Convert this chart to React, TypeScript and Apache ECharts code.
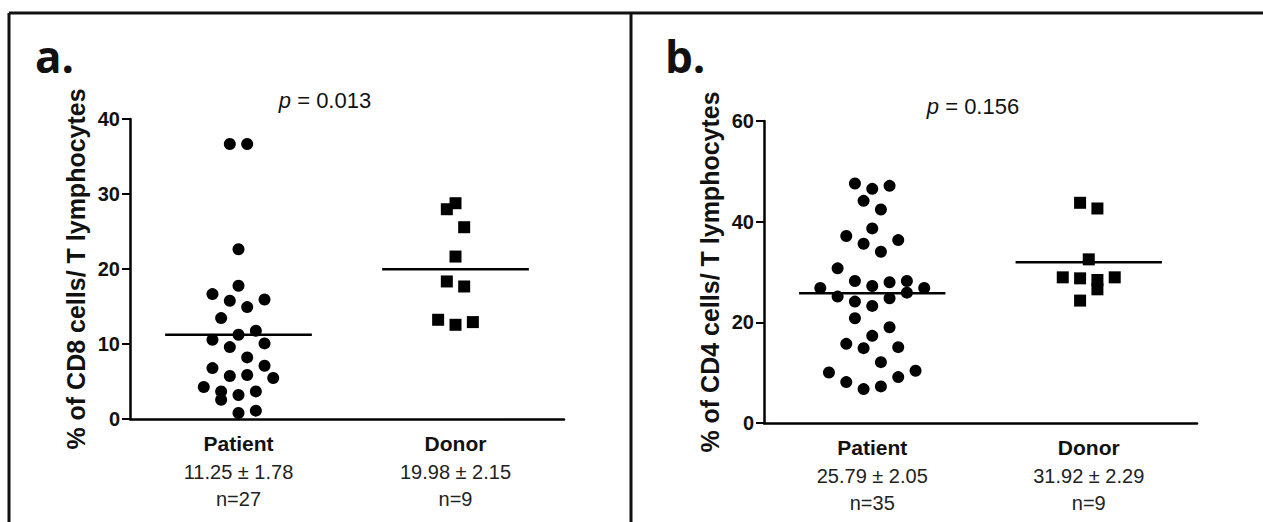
import React, { useEffect, useRef } from "react";
import * as echarts from "echarts";

// categories and summary labels
const categories = ["Patient", "Donor"];
const statsA = ["11.25 ± 1.78", "19.98 ± 2.15"];
const countsA = ["n=27", "n=9"];
const statsB = ["25.79 ± 2.05", "31.92 ± 2.29"];
const countsB = ["n=35", "n=9"];
const meansA = [11.25, 19.98];
const meansB = [25.79, 31.92];
const pA = "0.013";
const pB = "0.156";
const ticksA = [0, 10, 20, 30, 40];
const ticksB = [0, 20, 40, 60];

// points: [jitter step, value]
const patientA = [
  [-1, 36.67], [1, 36.67], [0, 22.64], [0, 17.76], [-3, 16.65], [-1, 15.76], [3, 15.94],
  [1, 14.92], [-2, 13.45], [2, 11.76], [0, 11.23], [-3, 10.57], [3, 10.08], [-1, 9.59],
  [1, 8.21], [-3, 6.79], [3, 7.1], [-1, 5.73], [1, 5.86], [4, 5.46], [-4, 4.26],
  [-2, 3.68], [0, 3.2], [2, 3.68], [-2, 2.57], [2, 1.11], [0, 0.8],
];
const donorA = [
  [0, 28.77], [-1, 27.97], [1, 25.57], [0, 21.66], [-1, 18.34], [1, 17.67],
  [-2, 13.23], [0, 12.56], [2, 12.92],
];
const patientB = [
  [-2, 47.58], [0, 46.52], [2, 47.12], [-1, 44.14], [1, 42.42], [0, 38.66], [-3, 37.14],
  [3, 36.34], [-1, 35.62], [1, 34.03], [-4, 30.73], [-2, 28.22], [2, 27.95], [4, 28.22],
  [-6, 26.83], [0, 27.23], [6, 26.83], [-4, 25.11], [4, 25.9], [2, 24.78], [-2, 24.12],
  [0, 23.26], [-2, 20.82], [2, 19.03], [0, 17.31], [-3, 15.73], [-1, 14.87], [3, 15.07],
  [1, 12.09], [-5, 10.04], [5, 10.37], [-3, 8.13], [3, 9.12], [-1, 6.74], [1, 7.27],
];
const donorB = [
  [-1, 43.75], [1, 42.62], [0, 32.51], [-3, 28.94], [-1, 28.74], [1, 28.41], [3, 28.94],
  [1, 26.56], [-1, 24.32],
];

const FONT = "'Liberation Sans', Arial, sans-serif";
const STEP = 0.04;
const HALF = 0.338;

export default function App() {
  const ref = useRef<HTMLDivElement>(null);
  useEffect(() => {
    document.body.style.margin = "0";
    const chart = echarts.init(ref.current!, null, { renderer: "svg" });

    const toPts = (arr: number[][], c: number) => arr.map(([j, v]) => [c + j * STEP, v]);
    const meanLine = (m: number, c: number) => [[c - HALF, m], [c + HALF, m]];

    const catAxis = (grid: number, stats: string[], counts: string[]) => ({
      type: "category",
      gridIndex: grid,
      data: categories,
      boundaryGap: true,
      axisLine: { lineStyle: { color: "#000", width: 2.5 } },
      axisTick: { alignWithLabel: true, length: 8, lineStyle: { color: "#000", width: 2 } },
      axisLabel: {
        margin: 10,
        interval: 0,
        formatter: (v: string, i: number) => `{b|${v}}\n{r|${stats[i]}}\n{r|${counts[i]}}`,
        rich: {
          b: { fontFamily: FONT, fontWeight: "bold", fontSize: 21, color: "#111", lineHeight: 29 },
          r: { fontFamily: FONT, fontSize: 20, color: "#222", lineHeight: 27 },
        },
      },
      splitLine: { show: false },
    });
    const valX = (grid: number) => ({ type: "value", gridIndex: grid, min: 0, max: 2, show: false });
    const yAx = (grid: number, max: number, interval: number, name: string) => ({
      type: "value",
      gridIndex: grid,
      min: 0,
      max,
      interval,
      name,
      nameLocation: "middle",
      nameRotate: 90,
      nameGap: 42,
      nameTextStyle: { fontFamily: FONT, fontWeight: "bold", fontSize: 25, color: "#111" },
      axisLine: { show: true, lineStyle: { color: "#000", width: 2.5 } },
      axisTick: { show: true, length: 8, lineStyle: { color: "#000", width: 2 } },
      axisLabel: { fontFamily: FONT, fontWeight: "bold", fontSize: 20, color: "#111", margin: 10 },
      splitLine: { show: false },
    });

    const scat = (xi: number, yi: number, data: number[][], symbol: string) => ({
      type: "scatter",
      xAxisIndex: xi,
      yAxisIndex: yi,
      data,
      symbol,
      symbolSize: 12,
      itemStyle: { color: "#000", opacity: 1 },
    });
    const line = (xi: number, yi: number, data: number[][]) => ({
      type: "line",
      xAxisIndex: xi,
      yAxisIndex: yi,
      data,
      symbol: "none",
      lineStyle: { color: "#000", width: 2.5 },
    });

    const pText = (x: number, y: number, p: string) => ({
      type: "text",
      x,
      y,
      style: {
        text: `{i|p} = ${p}`,
        align: "center",
        verticalAlign: "middle",
        fontFamily: FONT,
        fontSize: 22,
        fill: "#111",
        rich: { i: { fontStyle: "italic", fontFamily: FONT, fontSize: 22 } },
      },
    });
    const panelLetter = (x: number, t: string) => ({
      type: "text",
      x,
      y: 56,
      style: {
        text: t,
        verticalAlign: "middle",
        fontFamily: "'Open Sans', sans-serif",
        fontWeight: "bold",
        fontSize: 44,
        fill: "#111",
      },
    });
    const border = (x1: number, y1: number, x2: number, y2: number) => ({
      type: "line",
      shape: { x1, y1, x2, y2 },
      style: { stroke: "#111", lineWidth: 3 },
    });

    chart.setOption({
      animation: false,
      grid: [
        { left: 130, top: 119, width: 434, height: 300 },
        { left: 764, top: 121, width: 433, height: 302 },
      ],
      xAxis: [catAxis(0, statsA, countsA), valX(0), catAxis(1, statsB, countsB), valX(1)],
      yAxis: [
        yAx(0, ticksA[ticksA.length - 1], ticksA[1] - ticksA[0], "% of CD8 cells/ T lymphocytes"),
        yAx(1, ticksB[ticksB.length - 1], ticksB[1] - ticksB[0], "% of CD4 cells/ T lymphocytes"),
      ],
      series: [
        scat(1, 0, toPts(patientA, 0.5), "circle"),
        scat(1, 0, toPts(donorA, 1.5), "rect"),
        line(1, 0, meanLine(meansA[0], 0.5)),
        line(1, 0, meanLine(meansA[1], 1.5)),
        scat(3, 1, toPts(patientB, 0.5), "circle"),
        scat(3, 1, toPts(donorB, 1.5), "rect"),
        line(3, 1, meanLine(meansB[0], 0.5)),
        line(3, 1, meanLine(meansB[1], 1.5)),
      ],
      graphic: [
        border(9, 13, 1263, 13),
        border(9, 13, 9, 522),
        border(631, 13, 631, 522),
        panelLetter(35, "a."),
        panelLetter(665, "b."),
        pText(325, 100, pA),
        pText(973, 106, pB),
      ],
    });
    return () => chart.dispose();
  }, []);
  return <div ref={ref} style={{ width: 1263, height: 522 }} />;
}
